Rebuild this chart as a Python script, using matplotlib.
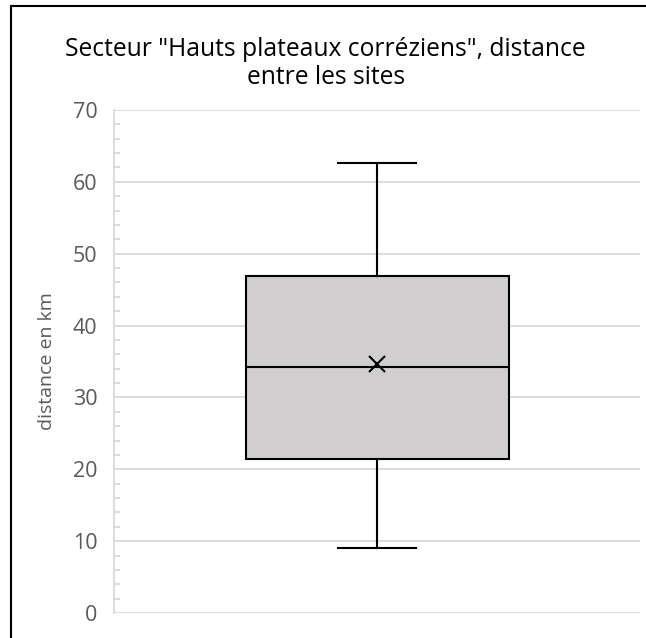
import matplotlib
matplotlib.use('Agg')
import matplotlib.pyplot as plt
from matplotlib.lines import Line2D

# valeurs (km)
whisker_low = 9.1
q1 = 21.4
median = 34.3
mean = 34.7
q3 = 46.9
whisker_high = 62.6

y_ticks = [0, 10, 20, 30, 40, 50, 60, 70]

plt.rcParams['font.family'] = ['Open Sans', 'DejaVu Sans']

W, H = 646, 638
fig = plt.figure(figsize=(W / 100, H / 100), dpi=100)
ax = fig.add_axes([114 / W, 1 - 613 / H, 526 / W, 503 / H])

stats = [{'whislo': whisker_low, 'q1': q1, 'med': median, 'mean': mean,
          'q3': q3, 'whishi': whisker_high, 'fliers': [], 'label': ''}]
ax.bxp(stats, positions=[1], widths=1.0, capwidths=0.3, patch_artist=True,
       showmeans=True, showfliers=False,
       boxprops=dict(facecolor='#d0cece', edgecolor='black', linewidth=1.5),
       medianprops=dict(color='black', linewidth=1.5),
       whiskerprops=dict(color='black', linewidth=1.5),
       capprops=dict(color='black', linewidth=1.5),
       meanprops=dict(marker='x', markeredgecolor='black', markersize=12,
                      markeredgewidth=1.5),
       zorder=3)

ax.set_xlim(0, 2)
ax.set_ylim(0, 70)
ax.set_yticks(y_ticks)
ax.set_yticks(range(0, 71, 2), minor=True)
ax.set_xticks([])
ax.grid(axis='y', which='major', color='#d9d9d9', linewidth=1.3, zorder=0)
ax.set_axisbelow(True)
for side in ['top', 'right', 'bottom']:
    ax.spines[side].set_visible(False)
ax.spines['left'].set_color('#d9d9d9')
ax.spines['left'].set_linewidth(1.3)
ax.tick_params(axis='y', which='major', length=0, labelsize=15.5,
               labelcolor='#595959', pad=12)
ax.tick_params(axis='y', which='minor', direction='in', length=4,
               color='#d9d9d9', width=1.3)
ax.set_ylabel('distance en km', fontsize=14, color='#595959', labelpad=12)

fig.text(0.504, 1 - 50 / H, 'Secteur "Hauts plateaux corréziens", distance',
         ha='center', va='center', fontsize=17.7, color='black')
fig.text(0.504, 1 - 77 / H, 'entre les sites',
         ha='center', va='center', fontsize=17.7, color='black')

# bordure du cadre (coin supérieur gauche)
fig.add_artist(Line2D([11 / W, 11 / W], [0, 1 - 6 / H], color='black',
                      linewidth=1.5, transform=fig.transFigure))
fig.add_artist(Line2D([11 / W, 1], [1 - 6 / H, 1 - 6 / H], color='black',
                      linewidth=1.5, transform=fig.transFigure))

fig.savefig('out.png', dpi=100)
